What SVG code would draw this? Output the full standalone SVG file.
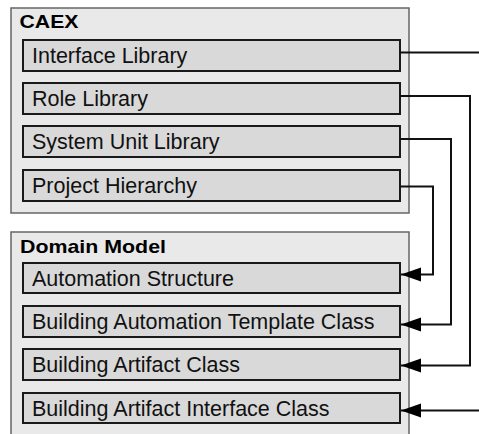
<svg xmlns="http://www.w3.org/2000/svg" width="479" height="434" viewBox="0 0 479 434">
<defs>
<style>
.outer{fill:#e9e9e9;stroke:#666;stroke-width:1.5}
.inner{fill:#d9d9d9;stroke:#1a1a1a;stroke-width:2}
.title{font-family:"Liberation Sans",Arial,sans-serif;font-weight:bold;font-size:19px;fill:#000}
.lbl{font-family:"Liberation Sans",Arial,sans-serif;font-size:21.5px;fill:#111}
.conn{fill:none;stroke:#111;stroke-width:2}
</style>
<marker id="arr" markerUnits="userSpaceOnUse" markerWidth="22" markerHeight="16" refX="20" refY="7" orient="auto">
<path d="M0,0 L20,7 L0,14 Z" fill="#000"/>
</marker>
</defs>
<rect width="479" height="434" fill="#fff"/>
<g id="caex">
<rect class="outer" x="11" y="8" width="398" height="205"/>
<text class="title" x="19.5" y="28" textLength="59" lengthAdjust="spacingAndGlyphs">CAEX</text>
</g>
<g id="interface-library">
<rect class="inner" x="23" y="40" width="377" height="31"/>
<text class="lbl" x="32" y="62.5">Interface Library</text>
</g>
<g id="role-library">
<rect class="inner" x="23" y="83" width="377" height="31"/>
<text class="lbl" x="32" y="105.5">Role Library</text>
</g>
<g id="system-unit-library">
<rect class="inner" x="23" y="126" width="377" height="31"/>
<text class="lbl" x="32" y="148.5">System Unit Library</text>
</g>
<g id="project-hierarchy">
<rect class="inner" x="23" y="170" width="377" height="31"/>
<text class="lbl" x="32" y="192.5">Project Hierarchy</text>
</g>
<g id="domain-model">
<rect class="outer" x="11" y="232" width="398" height="215"/>
<text class="title" x="20" y="253" textLength="146" lengthAdjust="spacingAndGlyphs">Domain Model</text>
</g>
<g id="automation-structure">
<rect class="inner" x="23" y="263" width="377" height="30"/>
<text class="lbl" x="32" y="285.5">Automation Structure</text>
</g>
<g id="building-automation-template-class">
<rect class="inner" x="23" y="306" width="377" height="31"/>
<text class="lbl" x="32" y="328.5">Building Automation Template Class</text>
</g>
<g id="building-artifact-class">
<rect class="inner" x="23" y="349" width="377" height="31"/>
<text class="lbl" x="32" y="371.5">Building Artifact Class</text>
</g>
<g id="building-artifact-interface-class">
<rect class="inner" x="23" y="393" width="377" height="30"/>
<text class="lbl" x="32" y="415.5">Building Artifact Interface Class</text>
</g>
<g id="connectors">
<path class="conn" d="M400,52.5 H479"/>
<path class="conn" d="M400,96 H470 V365.5 H401" marker-end="url(#arr)"/>
<path class="conn" d="M400,139 H451 V324.5 H401" marker-end="url(#arr)"/>
<path class="conn" d="M400,186.5 H433 V274.5 H401" marker-end="url(#arr)"/>
<path class="conn" d="M479,410.5 H401" marker-end="url(#arr)"/>
</g>
</svg>
